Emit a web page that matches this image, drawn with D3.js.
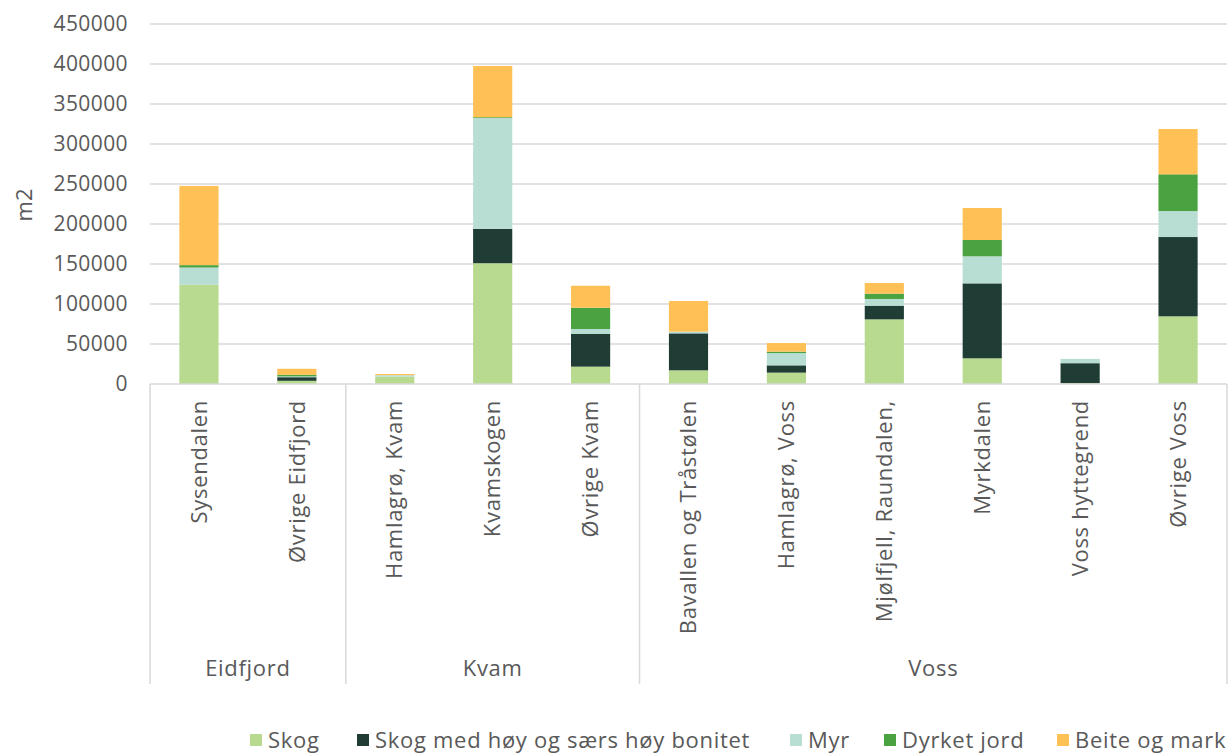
<!DOCTYPE html>
<html>
<head>
<meta charset="utf-8">
<script src="https://cdn.jsdelivr.net/npm/d3@7"></script>
<style>
  body { margin: 0; background: #fff; }
  svg text { font-family: "Open Sans", sans-serif; fill: #595959; }
</style>
</head>
<body>
<svg class="js-chart"></svg>
<script>
(() => {
    // categories and their region (group)
    const categories = ['Sysendalen', 'Øvrige Eidfjord', 'Hamlagrø, Kvam', 'Kvamskogen', 'Øvrige Kvam',
        'Bavallen og Tråstølen', 'Hamlagrø, Voss', 'Mjølfjell, Raundalen,', 'Myrkdalen', 'Voss hyttegrend', 'Øvrige Voss'];
    const groups = ['Eidfjord', 'Kvam', 'Voss'];
    const groupSizes = [2, 3, 6];

    // series values (m2)
    const seriesNames = ['Skog', 'Skog med høy og særs høy bonitet', 'Myr', 'Dyrket jord', 'Beite og mark'];
    const skog = [124000, 4000, 9000, 151000, 21700, 17100, 14200, 80800, 32100, 1000, 84600];
    const skogHoy = [0, 4500, 0, 43000, 40800, 46200, 9100, 17100, 93700, 25000, 99100];
    const myr = [21600, 1000, 2000, 138500, 6250, 2100, 15400, 8400, 33800, 5400, 32500];
    const dyrket = [3000, 2000, 0, 1000, 26600, 0, 1700, 6600, 20400, 0, 45900];
    const beite = [99000, 7500, 1500, 64000, 27500, 38350, 10800, 13400, 40000, 0, 56600];

    const yTicks = [0, 50000, 100000, 150000, 200000, 250000, 300000, 350000, 400000, 450000];

    const colors = ['#b8da8f', '#1f3d34', '#b8ddd3', '#4aa241', '#ffc156'];

    const svgWidth = 1232;
    const svgHeight = 754;
    const margin = {top: 24, right: 5, bottom: 370, left: 150};
    const width = svgWidth - margin.left - margin.right;
    const height = svgHeight - margin.top - margin.bottom;

    const svg = d3.select('.js-chart')
        .attr('width', svgWidth)
        .attr('height', svgHeight);
    const g = svg.append('g')
        .attr('transform', `translate(${margin.left},${margin.top})`);

    const x = d3.scaleBand()
        .domain(categories)
        .range([0, width])
        .paddingInner(0.6)
        .paddingOuter(0.3);

    const y = d3.scaleLinear()
        .domain([0, 450000])
        .range([height, 0]);

    // table for the stack
    const table = categories.map((c, i) => ({
        cat: c,
        s0: skog[i], s1: skogHoy[i], s2: myr[i], s3: dyrket[i], s4: beite[i]
    }));
    const stack = d3.stack().keys(['s0', 's1', 's2', 's3', 's4'])(table);

    // gridlines
    g.append('g')
        .selectAll('line')
        .data(yTicks.slice(1))
        .enter().append('line')
        .attr('x1', 0)
        .attr('x2', width)
        .attr('y1', d => y(d))
        .attr('y2', d => y(d))
        .attr('stroke', '#d9d9d9')
        .attr('stroke-width', 1.5);

    // y axis labels
    const yAxis = g.append('g')
        .call(d3.axisLeft(y).tickValues(yTicks).tickSize(0).tickPadding(22).tickFormat(d3.format('d')));
    yAxis.select('.domain').remove();
    yAxis.selectAll('text')
        .style('font-size', '21px')
        .attr('letter-spacing', '0.4px')
        .attr('fill', '#595959');

    // bars
    g.append('g')
        .selectAll('g')
        .data(stack)
        .enter().append('g')
        .attr('fill', (d, i) => colors[i])
        .selectAll('rect')
        .data(d => d)
        .enter().append('rect')
        .attr('x', d => x(d.data.cat))
        .attr('width', x.bandwidth())
        .attr('y', d => y(d[1]))
        .attr('height', d => y(d[0]) - y(d[1]));

    // category axis line
    g.append('line')
        .attr('x1', 0).attr('x2', width)
        .attr('y1', height).attr('y2', height)
        .attr('stroke', '#d9d9d9')
        .attr('stroke-width', 1.5);

    // category labels, rotated
    g.append('g')
        .selectAll('text')
        .data(categories)
        .enter().append('text')
        .attr('transform', d => `translate(${x(d) + x.bandwidth() / 2},${height + 16}) rotate(-90)`)
        .attr('text-anchor', 'end')
        .attr('dy', '0.35em')
        .attr('letter-spacing', '0.7px')
        .style('font-size', '22px')
        .text(d => d);

    // group separators and labels
    const step = x.step();
    let start = 0;
    const bounds = [0];
    groupSizes.forEach(n => { start += n; bounds.push(start); });
    g.append('g')
        .selectAll('line')
        .data(bounds)
        .enter().append('line')
        .attr('x1', d => d * step)
        .attr('x2', d => d * step)
        .attr('y1', height)
        .attr('y2', height + 300)
        .attr('stroke', '#d9d9d9')
        .attr('stroke-width', 1.5);

    g.append('g')
        .selectAll('text')
        .data(groups)
        .enter().append('text')
        .attr('x', (d, i) => (bounds[i] + bounds[i + 1]) / 2 * step)
        .attr('y', height + 284)
        .attr('dy', '0.35em')
        .attr('text-anchor', 'middle')
        .attr('letter-spacing', '0.7px')
        .style('font-size', '22px')
        .text(d => d);

    // y axis title
    svg.append('text')
        .attr('transform', 'translate(24,205) rotate(-90)')
        .attr('text-anchor', 'middle')
        .attr('dy', '0.35em')
        .style('font-size', '22px')
        .text('m2');

    // legend
    const legendX = [250, 357, 790, 884, 1057];
    const legend = svg.append('g')
        .selectAll('g')
        .data(seriesNames)
        .enter().append('g')
        .attr('transform', (d, i) => `translate(${legendX[i]},740)`);
    legend.append('rect')
        .attr('x', 0).attr('y', -6)
        .attr('width', 12).attr('height', 12)
        .attr('fill', (d, i) => colors[i]);
    legend.append('text')
        .attr('x', 18)
        .attr('dy', '0.35em')
        .attr('letter-spacing', '0.7px')
        .style('font-size', '22px')
        .text(d => d);
})();
</script>
</body>
</html>
